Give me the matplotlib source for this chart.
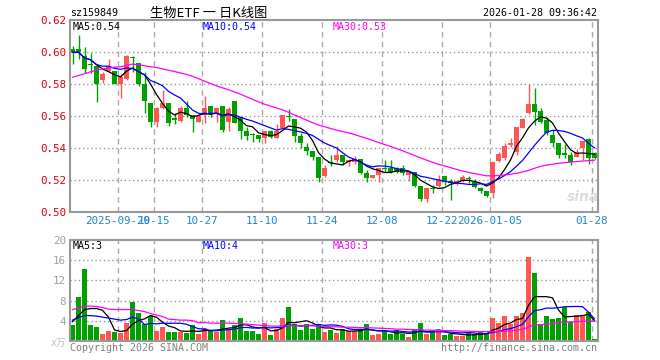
import matplotlib
matplotlib.use('Agg')
import matplotlib.pyplot as plt
import numpy as np
import pandas as pd

# daily candles, 2025-09-17 .. 2026-01-28
opens = [0.602, 0.602, 0.5975, 0.5927, 0.5915, 0.5827, 0.5883, 0.5883, 0.5802, 0.5833,
         0.5969, 0.5931, 0.5802, 0.5685, 0.5567, 0.565, 0.5685, 0.5592, 0.5571, 0.565,
         0.5606, 0.5567, 0.5608, 0.5665, 0.5615, 0.5665, 0.5567, 0.5696, 0.5598, 0.551,
         0.5487, 0.5483, 0.5467, 0.5508, 0.5467, 0.5525, 0.5604, 0.5583, 0.5479, 0.541,
         0.5385, 0.5348, 0.5227, 0.5317, 0.5327, 0.5358, 0.5313, 0.5315, 0.5331, 0.5248,
         0.5217, 0.5233, 0.5279, 0.5279, 0.5275, 0.5279, 0.5233, 0.525, 0.5165, 0.5081,
         0.515, 0.5167, 0.5227, 0.5198, 0.5181, 0.5198, 0.5213, 0.5192, 0.515, 0.5135,
         0.5123, 0.5323, 0.5337, 0.5421, 0.5379, 0.5525, 0.5619, 0.5675, 0.5633, 0.5577,
         0.5483, 0.5431, 0.5369, 0.5358, 0.5348, 0.54, 0.5456, 0.5369]
highs = [0.604, 0.611, 0.6035, 0.5994, 0.5925, 0.588, 0.5955, 0.5883, 0.5865, 0.5983,
         0.5977, 0.5931, 0.5879, 0.5685, 0.5658, 0.5765, 0.5685, 0.5623, 0.5665, 0.5696,
         0.5608, 0.5615, 0.5727, 0.5665, 0.565, 0.5665, 0.566, 0.5696, 0.5598, 0.5531,
         0.5498, 0.5483, 0.551, 0.5515, 0.555, 0.5608, 0.5644, 0.5583, 0.5498, 0.5435,
         0.5385, 0.5348, 0.5294, 0.5358, 0.5415, 0.5358, 0.5333, 0.535, 0.5331, 0.5265,
         0.5233, 0.5275, 0.5327, 0.5327, 0.5281, 0.5294, 0.5254, 0.525, 0.5165, 0.515,
         0.5171, 0.5233, 0.5227, 0.5206, 0.5202, 0.5233, 0.5227, 0.5206, 0.5156, 0.5135,
         0.5317, 0.5379, 0.5431, 0.5467, 0.5535, 0.5592, 0.580, 0.5779, 0.5654, 0.5598,
         0.5515, 0.5431, 0.5425, 0.5375, 0.5396, 0.5446, 0.5463, 0.5375]
lows = [0.593, 0.596, 0.587, 0.587, 0.569, 0.581, 0.5875, 0.580, 0.5712, 0.5827,
        0.5875, 0.579, 0.5623, 0.5531, 0.5531, 0.5644, 0.554, 0.555, 0.5567, 0.5594,
        0.5504, 0.5562, 0.556, 0.5594, 0.5567, 0.5504, 0.5506, 0.5556, 0.5458, 0.5452,
        0.544, 0.544, 0.5431, 0.5467, 0.5467, 0.5525, 0.5573, 0.5442, 0.540, 0.5358,
        0.5327, 0.5192, 0.5219, 0.5288, 0.5317, 0.5296, 0.529, 0.5302, 0.524, 0.5192,
        0.5217, 0.5192, 0.5254, 0.5248, 0.5244, 0.5233, 0.5198, 0.516, 0.5073, 0.5067,
        0.5119, 0.516, 0.5171, 0.5077, 0.5171, 0.5192, 0.5185, 0.515, 0.5119, 0.5094,
        0.5088, 0.5317, 0.5327, 0.541, 0.5358, 0.5525, 0.5613, 0.5546, 0.5556, 0.5483,
        0.541, 0.5338, 0.5338, 0.5296, 0.5344, 0.5327, 0.530, 0.5331]
closes = [0.600, 0.600, 0.5895, 0.5919, 0.580, 0.5865, 0.5915, 0.5802, 0.5848, 0.5979,
          0.5965, 0.5802, 0.5698, 0.5567, 0.565, 0.5685, 0.556, 0.5579, 0.5654, 0.5608,
          0.5585, 0.5602, 0.565, 0.5615, 0.565, 0.5515, 0.5646, 0.556, 0.551, 0.5477,
          0.5481, 0.5456, 0.5508, 0.5473, 0.551, 0.5608, 0.5598, 0.5479, 0.5435, 0.5385,
          0.5348, 0.5217, 0.5279, 0.531, 0.5358, 0.5317, 0.5327, 0.5335, 0.5248, 0.5217,
          0.5233, 0.5275, 0.5269, 0.5254, 0.5254, 0.5248, 0.5254, 0.5167, 0.5081, 0.515,
          0.5144, 0.5202, 0.5192, 0.5185, 0.5198, 0.5219, 0.5206, 0.5156, 0.5135, 0.5102,
          0.5317, 0.5365, 0.5417, 0.5431, 0.5535, 0.5581, 0.5675, 0.5625, 0.5567, 0.5494,
          0.5431, 0.5358, 0.5358, 0.5313, 0.5379, 0.5446, 0.5338, 0.5338]
# volume, in 10k lots
volumes = [3.1, 8.8, 14.35, 3.1, 2.7, 1.3, 1.9, 1.7, 1.6, 3.6,
           7.7, 5.5, 3.3, 5.0, 1.9, 2.7, 1.7, 1.7, 1.7, 1.5,
           3.1, 1.3, 2.5, 1.9, 1.7, 4.1, 2.3, 3.1, 4.5, 1.9,
           1.9, 1.3, 3.6, 1.1, 2.3, 4.5, 6.7, 3.3, 2.1, 3.3,
           2.3, 3.3, 1.7, 2.1, 1.5, 2.3, 1.9, 1.9, 2.3, 3.3,
           1.1, 1.3, 1.9, 1.3, 2.1, 1.3, 0.7, 2.3, 3.5, 1.3,
           1.7, 1.9, 1.1, 1.3, 0.9, 0.9, 1.5, 1.3, 1.7, 1.5,
           4.5, 3.5, 4.9, 3.3, 4.9, 5.5, 16.7, 13.5, 3.3, 4.9,
           4.3, 4.5, 6.7, 3.7, 5.1, 5.1, 5.7, 0.3]
# MA30 lines as drawn (need history before the window)
ma30_price = [0.5844, 0.5855, 0.5866, 0.5878, 0.5889, 0.5896, 0.5902, 0.5906, 0.5910, 0.5918,
              0.5926, 0.5922, 0.5916, 0.5910, 0.5905, 0.5896, 0.5888, 0.5880, 0.5871, 0.5862,
              0.5850, 0.5835, 0.5820, 0.5805, 0.5790, 0.5778, 0.5766, 0.5752, 0.5738, 0.5722,
              0.5706, 0.5690, 0.5676, 0.5664, 0.5652, 0.5640, 0.5625, 0.5608, 0.5592, 0.5576,
              0.5560, 0.5545, 0.5535, 0.5524, 0.5514, 0.5505, 0.5496, 0.5486, 0.5474, 0.5462,
              0.5450, 0.5436, 0.5424, 0.5412, 0.5398, 0.5385, 0.5370, 0.5355, 0.5340, 0.5326,
              0.5313, 0.5300, 0.5290, 0.5279, 0.5268, 0.5258, 0.5250, 0.5242, 0.5235, 0.5228,
              0.5228, 0.5230, 0.5233, 0.5238, 0.5244, 0.5252, 0.5262, 0.5275, 0.5287, 0.5295,
              0.5300, 0.5306, 0.5310, 0.5314, 0.5317, 0.5320, 0.5323, 0.5326]
ma30_vol = [6.2, 6.5, 6.9, 6.9, 6.8, 6.6, 6.3, 6.2, 6.2, 6.2,
            6.2, 6.0, 5.8, 5.4, 5.1, 4.8, 4.3, 4.2, 4.1, 4.1,
            4.0, 3.6, 3.6, 3.5, 3.5, 3.5, 3.5, 3.45, 3.4, 3.3,
            3.2, 3.1, 3.0, 2.9, 2.9, 2.95, 3.0, 3.0, 3.0, 3.0,
            2.95, 2.9, 2.85, 2.8, 2.75, 2.7, 2.7, 2.65, 2.6, 2.6,
            2.55, 2.5, 2.45, 2.4, 2.3, 2.3, 2.25, 2.2, 2.2, 2.1,
            2.1, 2.05, 2.0, 2.0, 1.95, 1.9, 1.9, 1.85, 1.8, 1.8,
            1.8, 1.85, 1.9, 1.95, 2.1, 2.3, 2.7, 3.1, 3.2, 3.3,
            3.4, 3.6, 3.7, 3.75, 3.8, 3.85, 3.9, 3.9]
# first points of the volume MA5 / MA10 as drawn (window reaches before the chart)
vma5_head = [3.8, 5.0, 6.2, 6.4]
vma10_head = [4.1, 4.6, 5.0, 5.0, 4.9, 4.7, 4.5, 4.3, 4.1]

tick_idx = [8, 14, 22, 32, 42, 52, 62, 70, 87]
tick_labels = ['2025-09-29', '10-15', '10-27', '11-10', '11-24', '12-08', '12-22', '2026-01-05', '01-28']
price_ticks = [0.50, 0.52, 0.54, 0.56, 0.58, 0.60, 0.62]
vol_ticks = [4, 8, 12, 16, 20]

RED = '#ff5555'
GREEN = '#00a000'
MONO = 'DejaVu Sans Mono'
FS = 7.2

W, H = 660, 360
fig = plt.figure(figsize=(6.6, 3.6), dpi=100)


def rect(l, t, r, b):
    return [l / W, 1 - b / H, (r - l) / W, (b - t) / H]


ax = fig.add_axes(rect(70, 20.3, 597.7, 212.3))
axv = fig.add_axes(rect(70, 240.3, 597.7, 340.7))

o = np.array(opens)
c = np.array(closes)
x = np.arange(len(c))
cols = np.where(c >= o, RED, GREEN)

# candles
ax.vlines(x, lows, highs, colors=cols, lw=1)
ax.bar(x, np.maximum(np.abs(c - o), 0.0003), bottom=np.minimum(o, c), width=0.8, color=cols)

ma5 = pd.Series(c).rolling(5, min_periods=1).mean()
ma10 = pd.Series(c).rolling(10, min_periods=1).mean()
ax.plot(x, ma5, color='black', lw=0.9)
ax.plot(x, ma10, color='#0000ff', lw=0.9)
ax.plot(x, ma30_price, color='#ff00ff', lw=0.9)

# volume
v = np.array(volumes)
axv.bar(x, v, width=0.83, color=cols)
vma5 = pd.Series(v).rolling(5).mean().to_numpy()
vma5[:len(vma5_head)] = vma5_head
vma10 = pd.Series(v).rolling(10).mean().to_numpy()
vma10[:len(vma10_head)] = vma10_head
axv.plot(x, vma5, color='black', lw=0.9)
axv.plot(x, vma10, color='#0000ff', lw=0.9)
axv.plot(x, ma30_vol, color='#ff00ff', lw=0.9)

grid_x = [i - 0.42 for i in tick_idx]
for a in (ax, axv):
    a.set_xlim(-0.42, 87.53)
    for s in a.spines.values():
        s.set_color('#999999')
        s.set_linewidth(1.5)
    for gx in grid_x:
        a.axvline(gx, color='#aaaaaa', lw=1, ls=(0, (4, 3)), zorder=0)
    a.set_xticks(grid_x)

ax.set_ylim(0.50, 0.62)
ax.set_yticks(price_ticks)
ax.set_yticklabels(['%.2f' % t for t in price_ticks], family=MONO, fontsize=FS + 0.6, color='#e00000')
ax.set_xticklabels(tick_labels, family=MONO, fontsize=FS + 0.6, color='#1c86d1')
ax.tick_params(length=0, pad=3)
for t in price_ticks[1:-1]:
    ax.axhline(t, color='#999999', lw=1, ls=(0, (1, 2)), zorder=0)

axv.set_ylim(0, 20)
axv.set_yticks(vol_ticks)
axv.set_yticklabels([str(t) for t in vol_ticks], family=MONO, fontsize=FS + 0.6, color='#a0a0a0')
axv.set_xticklabels([])
axv.tick_params(length=0, pad=3)
for t in vol_ticks[:-1]:
    axv.axhline(t, color='#999999', lw=1, ls=(0, (1, 2)), zorder=0)


def ftext(px, py, s, **kw):
    kw.setdefault('family', MONO)
    kw.setdefault('fontsize', FS)
    fig.text(px / W, 1 - py / H, s, va='center', **kw)


ftext(70, 13, 'sz159849')
ftext(150, 13, '生物ETF 一 日K线图', family=['Noto Sans CJK SC', 'DejaVu Sans'], fontsize=9.5)
ftext(597, 13, '2026-01-28 09:36:42', ha='right')
ftext(73, 27, 'MA5:0.54', color='black')
ftext(203, 27, 'MA10:0.54', color='#0000ff')
ftext(333, 27, 'MA30:0.53', color='#ff00ff')
ftext(73, 246, 'MA5:3', color='black')
ftext(203, 246, 'MA10:4', color='#0000ff')
ftext(333, 246, 'MA30:3', color='#ff00ff')
ftext(70, 348, 'Copyright 2026 SINA.COM', color='#808080')
ftext(597, 348, 'http://finance.sina.com.cn', ha='right', color='#808080')
ftext(50, 343, 'x万', family=['DejaVu Sans', 'Noto Sans CJK SC'], fontsize=7, color='#c0c0c0', style='italic')
ftext(567, 197, 'sina', family='DejaVu Sans', fontsize=10, color='#dcdcdc', style='italic', weight='bold')

fig.savefig('out.png', dpi=100)
